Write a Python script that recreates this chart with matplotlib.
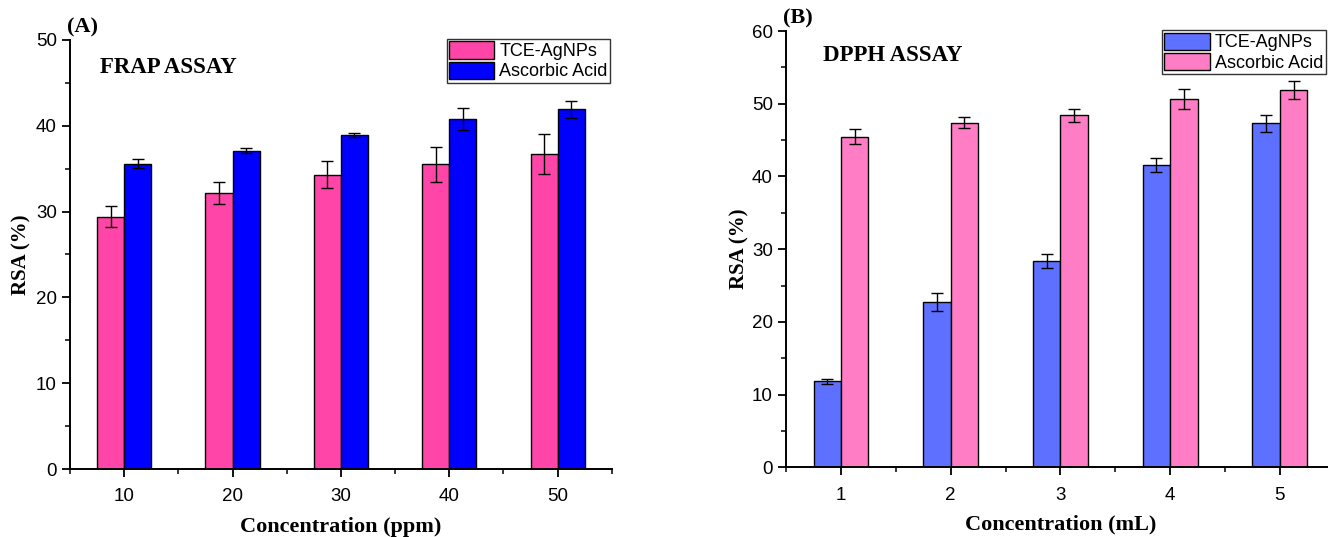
import matplotlib
matplotlib.use("Agg")
from matplotlib import pyplot as plt
from matplotlib.ticker import MultipleLocator
import numpy as np

# panel A: FRAP assay
frap_conc = [10, 20, 30, 40, 50]
frap_tce = [29.4, 32.2, 34.3, 35.5, 36.7]
frap_tce_err = [1.2, 1.3, 1.6, 2.0, 2.3]
frap_asc = [35.6, 37.1, 38.9, 40.8, 41.9]
frap_asc_err = [0.5, 0.3, 0.2, 1.25, 0.95]

# panel B: DPPH assay
dpph_conc = [1, 2, 3, 4, 5]
dpph_tce = [11.8, 22.7, 28.4, 41.6, 47.3]
dpph_tce_err = [0.4, 1.25, 0.95, 0.95, 1.15]
dpph_asc = [45.5, 47.4, 48.4, 50.7, 51.9]
dpph_asc_err = [1.05, 0.75, 0.85, 1.35, 1.2]

SANS = "Liberation Sans"
SERIF = "Liberation Serif"

plt.rcParams["font.family"] = SANS


def style_axes(ax):
    for s in ["top", "right"]:
        ax.spines[s].set_visible(False)
    for s in ["left", "bottom"]:
        ax.spines[s].set_linewidth(1.4)
    ax.tick_params(which="major", direction="out", length=6, width=1.3, labelsize=13.5)
    ax.tick_params(which="minor", direction="out", length=3.5, width=1.1)
    ax.tick_params(axis="x", pad=8)


def bars(ax, x, w, a, aerr, b, berr, ca, cb, labels):
    x = np.array(x, dtype=float)
    ekw = dict(elinewidth=1.0, capthick=1.0, ecolor="black")
    ax.bar(x - w / 2, a, w, yerr=aerr, color=ca, edgecolor="black",
           linewidth=1.0, capsize=4, error_kw=ekw, label=labels[0], zorder=2)
    ax.bar(x + w / 2, b, w, yerr=berr, color=cb, edgecolor="black",
           linewidth=1.0, capsize=4, error_kw=ekw, label=labels[1], zorder=2)


def decorate(ax, xlabel, letter, title, title_xy, leg_anchor, ypad):
    style_axes(ax)
    ax.set_xlabel(xlabel, fontfamily=SERIF, fontweight="bold",
                  fontsize=16, labelpad=8)
    ax.set_ylabel("RSA (%)", fontfamily=SERIF, fontweight="bold", fontsize=15,
                  labelpad=ypad)
    ax.text(-0.005, 1.005, letter, transform=ax.transAxes, fontfamily=SERIF,
            fontweight="bold", fontsize=16, va="bottom", ha="left")
    ax.text(title_xy[0], title_xy[1], title, transform=ax.transAxes,
            fontfamily=SERIF, fontweight="bold", fontsize=16.5,
            va="center", ha="left")
    leg = ax.legend(loc="upper right", bbox_to_anchor=leg_anchor, fontsize=13,
                    frameon=True, fancybox=False, edgecolor="black",
                    handlelength=2.5, handleheight=1.1, borderpad=0.12,
                    labelspacing=0.08, handletextpad=0.3, borderaxespad=0.2)
    leg.get_frame().set_linewidth(1.0)


fig = plt.figure(figsize=(13.28, 5.37), dpi=100)

# ---- panel A
ax1 = fig.add_axes([0.0527, 0.1266, 0.408, 0.799])
bars(ax1, frap_conc, 2.5, frap_tce, frap_tce_err, frap_asc, frap_asc_err,
     "#FF45A8", "#0000FF", ["TCE-AgNPs", "Ascorbic Acid"])
ax1.set_xlim(5, 55)
ax1.set_ylim(0, 50)
ax1.set_xticks(frap_conc)
ax1.xaxis.set_minor_locator(MultipleLocator(5))
ax1.yaxis.set_major_locator(MultipleLocator(10))
ax1.yaxis.set_minor_locator(MultipleLocator(5))
decorate(ax1, "Concentration (ppm)", "(A)", "FRAP ASSAY", (0.055, 0.935),
         (1.003, 1.01), 3)

# ---- panel B
ax2 = fig.add_axes([0.592, 0.130, 0.413, 0.812])
bars(ax2, dpph_conc, 0.25, dpph_tce, dpph_tce_err, dpph_asc, dpph_asc_err,
     "#5E70FF", "#FF7DC4", ["TCE-AgNPs", "Ascorbic Acid"])
ax2.set_xlim(0.5, 5.5)
ax2.set_ylim(0, 60)
ax2.set_xticks(dpph_conc)
ax2.xaxis.set_minor_locator(MultipleLocator(0.5))
ax2.yaxis.set_major_locator(MultipleLocator(10))
ax2.yaxis.set_minor_locator(MultipleLocator(5))
decorate(ax2, "Concentration (mL)", "(B)", "DPPH ASSAY", (0.068, 0.945),
         (0.99, 1.01), 2)

fig.savefig("out.png", dpi=100)
